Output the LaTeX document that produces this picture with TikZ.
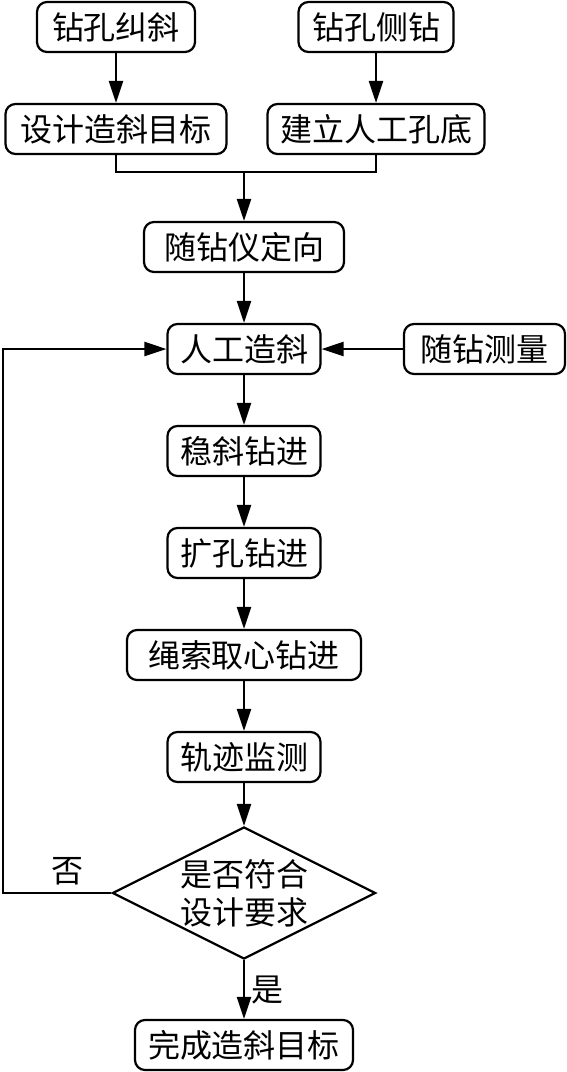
\documentclass[tikz,border=0pt]{standalone}
\usepackage{fontspec}
\newfontfamily\cjk{Noto Sans CJK SC}
\usetikzlibrary{arrows.meta,shapes.geometric}

\begin{document}
\begin{tikzpicture}[x=0.5pt, y=-0.5pt, node distance=51pt,
  block/.style={draw, line width=1.1pt, rounded corners=5pt, minimum height=25pt, inner xsep=5pt, font=\cjk\fontsize{16}{19}\selectfont},
  check/.style={draw, line width=1.1pt, diamond, aspect=2, minimum width=130pt, minimum height=66pt, inner sep=0pt, align=center, font=\cjk\fontsize{16}{19}\selectfont},
  tag/.style={font=\cjk\fontsize{16}{19}\selectfont},
  line/.style={line width=1.1pt},
  arrow/.style={line width=1.1pt, -{Triangle[length=11pt,width=7pt]}}]

  \useasboundingbox (0,0) rectangle (567,1072);

  % Top rows
  \node[block, minimum width=79pt] (A1) at (116,27) {钻孔纠斜};
  \node[block, minimum width=77.5pt] (A2) at (376,27) {钻孔侧钻};
  \node[block, minimum width=110.5pt, below of=A1] (B1) {设计造斜目标};
  \node[block, minimum width=108.5pt, below of=A2] (B2) {建立人工孔底};

  % Main column
  \node[block, minimum width=100pt] (C1) at (244,247) {随钻仪定向};
  \node[block, minimum width=76.5pt, below of=C1] (C2) {人工造斜};
  \node[block, minimum width=80.5pt] (M1) at (484.5,349) {随钻测量};
  \node[block, minimum width=76.5pt, below of=C2] (C3) {稳斜钻进};
  \node[block, minimum width=76.5pt, below of=C3] (C4) {扩孔钻进};
  \node[block, minimum width=117pt, below of=C4] (C5) {绳索取心钻进};
  \node[block, minimum width=76.5pt, below of=C5] (C6) {轨迹监测};

  % Decision
  \node[check] (D1) at (244,893) {是否符合\\设计要求};
  \node[block, minimum width=109pt] (E1) at (244,1045) {完成造斜目标};

  \coordinate (J1) at (244,172);
  \coordinate (F1) at (3,893);

  % Arrows
  \draw[arrow] (A1.south) -- (B1.north);
  \draw[arrow] (A2.south) -- (B2.north);
  \draw[line] (B1.south) |- (J1) -| (B2.south);
  \draw[arrow] (J1) -- (C1.north);
  \draw[arrow] (C1.south) -- (C2.north);
  \draw[arrow] (M1.west) -- (C2.east);
  \draw[arrow] (C2.south) -- (C3.north);
  \draw[arrow] (C3.south) -- (C4.north);
  \draw[arrow] (C4.south) -- (C5.north);
  \draw[arrow] (C5.south) -- (C6.north);
  \draw[arrow] (C6.south) -- (D1.north);
  \draw[arrow] (D1.south) -- node[tag, right] {是} (E1.north);

  % feedback loop
  \draw[arrow] (D1.west) -- node[tag, above, pos=0.4] {否} (F1) |- (C2.west);

\end{tikzpicture}
\end{document}
